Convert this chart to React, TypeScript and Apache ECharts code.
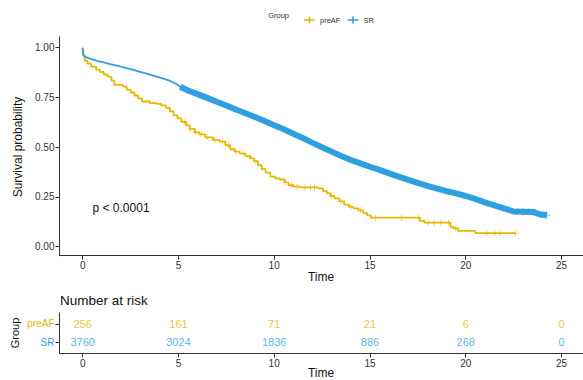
import React, { useEffect, useRef } from "react";
import * as echarts from "echarts";

const preAFTime = [0, 0.03, 0.1, 0.25, 0.45, 0.7, 0.9, 1.1, 1.3, 1.5, 1.65, 2.1, 2.3, 2.5, 2.7, 2.9, 3.1, 3.5, 3.85, 4.1, 4.35, 4.55, 4.75, 4.95, 5.15, 5.4, 5.6, 5.85, 6.1, 6.4, 6.8, 7.15, 7.45, 7.7, 7.95, 8.2, 8.5, 8.75, 8.95, 9.15, 9.35, 9.55, 9.8, 10.05, 10.3, 10.55, 10.75, 11.0, 11.35, 12.3, 12.55, 12.75, 12.95, 13.15, 13.4, 13.65, 13.9, 14.15, 14.4, 14.65, 14.85, 15.05, 17.6, 17.85, 19.2, 19.35, 19.6, 20.5, 22.6];
const preAFSurv = [1.0, 0.96, 0.935, 0.92, 0.905, 0.89, 0.878, 0.866, 0.855, 0.835, 0.813, 0.805, 0.79, 0.775, 0.76, 0.745, 0.73, 0.722, 0.718, 0.71, 0.698, 0.68, 0.66, 0.645, 0.628, 0.61, 0.592, 0.575, 0.565, 0.55, 0.536, 0.528, 0.51, 0.49, 0.478, 0.468, 0.455, 0.444, 0.43, 0.41, 0.39, 0.372, 0.352, 0.344, 0.338, 0.323, 0.31, 0.302, 0.298, 0.293, 0.28, 0.268, 0.255, 0.243, 0.228, 0.212, 0.2, 0.193, 0.183, 0.17, 0.158, 0.146, 0.13, 0.121, 0.1, 0.092, 0.08, 0.068, 0.068];
const preAFCensor = [5.3, 5.6, 5.9, 6.2, 6.5, 6.9, 7.3, 7.6, 8.0, 8.4, 8.7, 9.0, 10.6, 10.9, 11.2, 11.6, 11.9, 12.1, 13.0, 13.5, 14.0, 14.5, 15.3, 16.66, 17.55, 18.05, 18.35, 18.7, 19.1, 19.45, 21.1, 21.53, 21.76, 22.6];

const srTime = [0, 0.02, 0.06, 0.12, 0.3, 0.55, 0.8, 1.1, 1.43, 1.8, 2.1, 2.4, 2.7, 3.0, 3.3, 3.6, 4.0, 4.3, 4.6, 4.9, 5.1, 5.5, 6.0, 6.5, 7.0, 7.5, 8.0, 8.5, 9.0, 9.5, 10.0, 10.5, 11.0, 11.5, 12.0, 12.5, 13.0, 13.5, 14.0, 14.5, 15.0, 15.5, 16.0, 16.5, 17.0, 17.5, 18.0, 18.5, 19.0, 19.5, 20.0, 20.5, 21.0, 21.5, 22.0, 22.5, 23.0, 23.5, 23.9, 24.23];
const srSurv = [1.0, 0.975, 0.962, 0.955, 0.948, 0.94, 0.933, 0.926, 0.918, 0.91, 0.902, 0.895, 0.887, 0.879, 0.871, 0.862, 0.851, 0.842, 0.832, 0.817, 0.804, 0.785, 0.767, 0.748, 0.729, 0.71, 0.69, 0.671, 0.652, 0.632, 0.611, 0.59, 0.568, 0.546, 0.522, 0.5, 0.478, 0.456, 0.436, 0.419, 0.402, 0.386, 0.369, 0.352, 0.336, 0.321, 0.306, 0.292, 0.279, 0.268, 0.255, 0.24, 0.223, 0.208, 0.193, 0.177, 0.176, 0.175, 0.162, 0.159];
const srCensorStart = 5.1;
const srCensor = [22.7, 23.0, 23.3, 23.6, 23.9, 24.23];

const riskTimes = [0, 5, 10, 15, 20, 25];
const riskPreAF = [256, 161, 71, 21, 6, 0];
const riskSR = [3760, 3024, 1836, 886, 268, 0];

const xTicks = [0, 5, 10, 15, 20, 25];
const yTicks = [0, 0.25, 0.5, 0.75, 1.0];

const YELLOW = "#E7B800";
const BLUE = "#2E9FDF";
const AXIS = "#333333";
const FONT = "'Liberation Sans', Arial, sans-serif";

const PLUS = "path://M0,2.6H6V3.4H0Z M2.6,0H3.4V6H2.6Z";
const LEGEND_ICON = "path://M0,3.7H11V5.3H0Z M4.7,1H6.3V8H4.7Z";

function stepAt(times: number[], surv: number[], t: number) {
  let v = surv[0];
  for (let i = 0; i < times.length; i++) {
    if (times[i] <= t) v = surv[i];
  }
  return v;
}

function lineAt(times: number[], surv: number[], t: number) {
  for (let i = 1; i < times.length; i++) {
    if (times[i] >= t) {
      const f = (t - times[i - 1]) / (times[i] - times[i - 1]);
      return surv[i - 1] + f * (surv[i] - surv[i - 1]);
    }
  }
  return surv[surv.length - 1];
}

const zip = (a: number[], b: number[]) => a.map((v, i) => [v, b[i]]);

export default function App() {
  const ref = useRef<HTMLDivElement>(null);
  useEffect(() => {
    if (!ref.current) return;
    const chart = echarts.init(ref.current, null, { renderer: "svg" });
    const xMin = -1.21;
    const xMax = 26.125;
    const xAxisCommon = (gridIndex: number) => ({
      type: "value",
      gridIndex,
      min: xMin,
      max: xMax,
      splitLine: { show: false },
      axisLine: { show: true, onZero: false, lineStyle: { color: AXIS, width: 1 } },
      axisTick: { show: true, length: 4, lineStyle: { color: AXIS }, customValues: xTicks },
      axisLabel: { customValues: xTicks, fontSize: 10, color: AXIS, margin: 5, fontFamily: FONT },
    });
    const srBand = zip(srTime, srSurv).filter((p) => p[0] >= srCensorStart);
    const option: any = {
      animation: false,
      textStyle: { fontFamily: FONT },
      legend: {
        data: ["preAF", "SR"],
        left: 299,
        top: 11,
        icon: LEGEND_ICON,
        itemWidth: 11,
        itemHeight: 9,
        itemGap: 7,
        textStyle: { fontSize: 7.5, color: AXIS, fontFamily: FONT },
      },
      grid: [
        { left: 59.5, right: 0, top: 37, height: 218.7 },
        { left: 59.5, right: 0, top: 313, height: 40.3 },
      ],
      xAxis: [xAxisCommon(0), xAxisCommon(1)],
      yAxis: [
        {
          type: "value",
          gridIndex: 0,
          min: -0.045,
          max: 1.054,
          splitLine: { show: false },
          axisLine: { show: true, onZero: false, lineStyle: { color: AXIS, width: 1 } },
          axisTick: { show: true, length: 4, lineStyle: { color: AXIS }, customValues: yTicks },
          axisLabel: {
            customValues: yTicks,
            fontSize: 10,
            color: AXIS,
            margin: 5,
            fontFamily: FONT,
            formatter: (v: number) => Number(v).toFixed(2),
          },
        },
        {
          type: "value",
          gridIndex: 1,
          min: 0.4,
          max: 2.6,
          splitLine: { show: false },
          axisLine: { show: true, onZero: false, lineStyle: { color: AXIS, width: 1 } },
          axisTick: { show: true, length: 4, lineStyle: { color: AXIS }, customValues: [1, 2] },
          axisLabel: {
            customValues: [1, 2],
            fontSize: 10,
            margin: 5,
            fontFamily: FONT,
            formatter: (v: number) => (Number(v) === 2 ? "{a|preAF}" : "{b|SR}"),
            rich: {
              a: { color: YELLOW, fontSize: 10, fontFamily: FONT },
              b: { color: BLUE, fontSize: 10, fontFamily: FONT },
            },
          },
        },
      ],
      series: [
        {
          name: "preAF",
          type: "line",
          step: "end",
          xAxisIndex: 0,
          yAxisIndex: 0,
          showSymbol: false,
          symbol: "none",
          data: zip(preAFTime, preAFSurv),
          lineStyle: { color: YELLOW, width: 1.8 },
          itemStyle: { color: YELLOW },
        },
        {
          name: "preAF-censor",
          type: "scatter",
          xAxisIndex: 0,
          yAxisIndex: 0,
          symbol: PLUS,
          symbolSize: 6,
          data: preAFCensor.map((t) => [t, stepAt(preAFTime, preAFSurv, t)]),
          itemStyle: { color: YELLOW },
        },
        {
          name: "SR",
          type: "line",
          xAxisIndex: 0,
          yAxisIndex: 0,
          showSymbol: false,
          symbol: "none",
          data: zip(srTime, srSurv),
          lineStyle: { color: BLUE, width: 1.8 },
          itemStyle: { color: BLUE },
        },
        {
          name: "SR-censor-band",
          type: "line",
          xAxisIndex: 0,
          yAxisIndex: 0,
          showSymbol: false,
          symbol: "none",
          data: srBand,
          lineStyle: { color: BLUE, width: 6 },
        },
        {
          name: "SR-censor",
          type: "scatter",
          xAxisIndex: 0,
          yAxisIndex: 0,
          symbol: PLUS,
          symbolSize: 7,
          data: srCensor.map((t) => [t, lineAt(srTime, srSurv, t)]),
          itemStyle: { color: BLUE },
        },
        {
          name: "risk-preAF",
          type: "scatter",
          xAxisIndex: 1,
          yAxisIndex: 1,
          symbolSize: 0,
          data: riskTimes.map((t, i) => [t, 2, riskPreAF[i]]),
          label: {
            show: true,
            position: "inside",
            formatter: (p: any) => String(p.value[2]),
            color: YELLOW,
            fontSize: 11,
            fontFamily: FONT,
          },
        },
        {
          name: "risk-SR",
          type: "scatter",
          xAxisIndex: 1,
          yAxisIndex: 1,
          symbolSize: 0,
          data: riskTimes.map((t, i) => [t, 1, riskSR[i]]),
          label: {
            show: true,
            position: "inside",
            formatter: (p: any) => String(p.value[2]),
            color: BLUE,
            fontSize: 11,
            fontFamily: FONT,
          },
        },
      ],
      graphic: [
        {
          type: "text",
          x: 289,
          y: 15.7,
          style: { text: "Group", fontSize: 7.5, fill: AXIS, align: "right", verticalAlign: "middle", fontFamily: FONT },
        },
        {
          type: "text",
          x: 18,
          y: 147,
          rotation: Math.PI / 2,
          style: { text: "Survival probability", fontSize: 12, fill: "#111", align: "center", verticalAlign: "middle", fontFamily: FONT },
        },
        {
          type: "text",
          x: 321,
          y: 277,
          style: { text: "Time", fontSize: 12, fill: "#111", align: "center", verticalAlign: "middle", fontFamily: FONT },
        },
        {
          type: "text",
          x: 92.5,
          y: 208.3,
          style: { text: "p < 0.0001", fontSize: 12, fill: "#111", align: "left", verticalAlign: "middle", fontFamily: FONT },
        },
        {
          type: "text",
          x: 60,
          y: 300.7,
          style: { text: "Number at risk", fontSize: 13.5, fill: "#111", align: "left", verticalAlign: "middle", fontFamily: FONT },
        },
        {
          type: "text",
          x: 15,
          y: 333,
          rotation: Math.PI / 2,
          style: { text: "Group", fontSize: 11, fill: "#111", align: "center", verticalAlign: "middle", fontFamily: FONT },
        },
        {
          type: "text",
          x: 321,
          y: 373,
          style: { text: "Time", fontSize: 12, fill: "#111", align: "center", verticalAlign: "middle", fontFamily: FONT },
        },
      ],
    };
    chart.setOption(option);
    return () => chart.dispose();
  }, []);
  return (
    <div
      ref={ref}
      style={{ position: "fixed", left: 0, top: 0, width: 583, height: 380, background: "#fff" }}
    />
  );
}
